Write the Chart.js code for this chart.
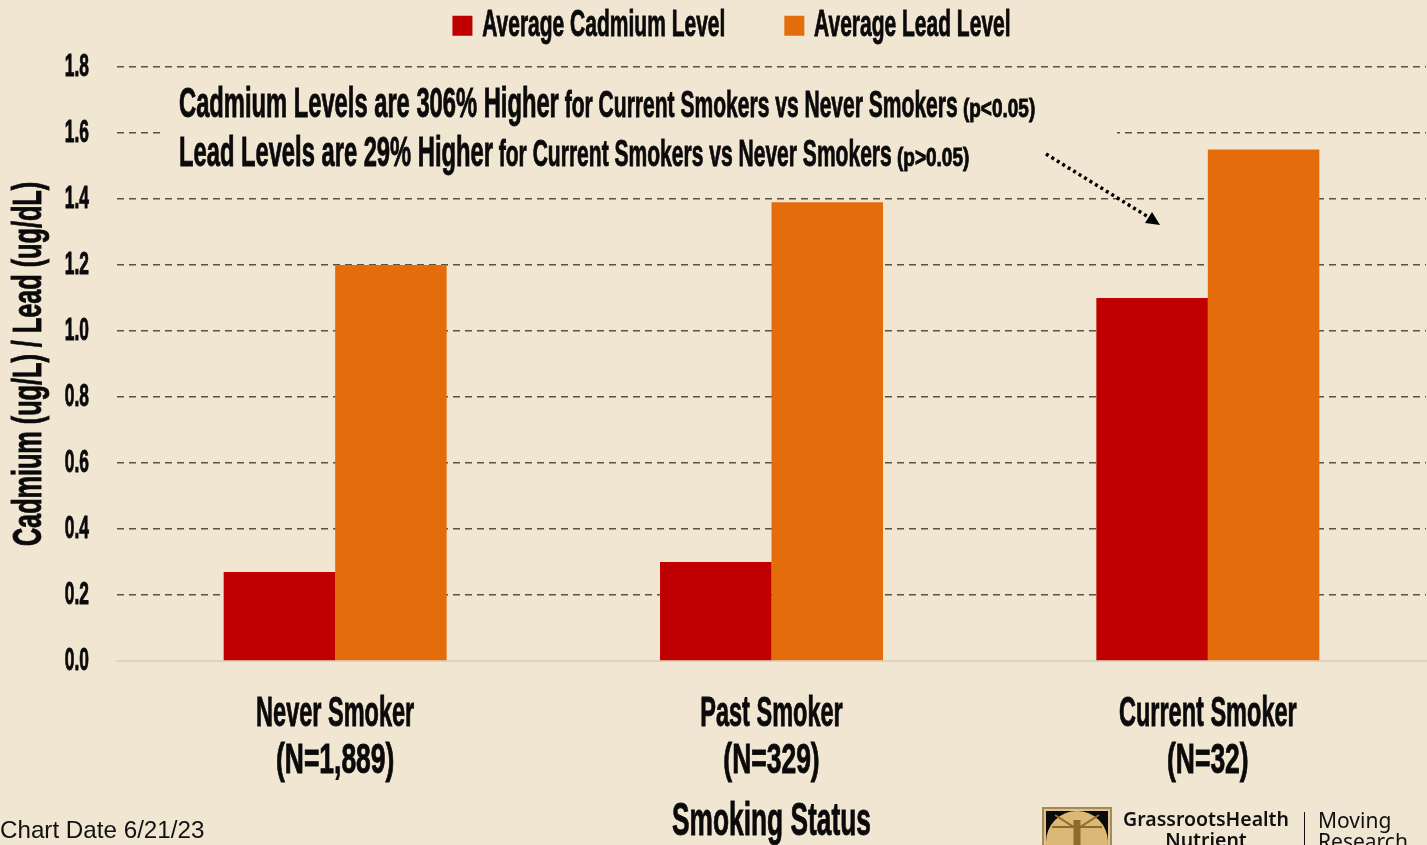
<!DOCTYPE html>
<html>
<head>
<meta charset="utf-8">
<title>Cadmium and lead by smoking status</title>
<script src="https://cdn.jsdelivr.net/npm/chart.js@4/dist/chart.umd.min.js"></script>
<style>
  html, body { margin: 0; padding: 0; background: #f1e6d2; overflow: hidden; }
  canvas { display: block; }
</style>
</head>
<body>
<canvas id="smokingChart" width="1427" height="845"></canvas>
<script>
const categories = [["Never Smoker", "(N=1,889)"], ["Past Smoker", "(N=329)"], ["Current Smoker", "(N=32)"]];
const cadmium = [0.27, 0.30, 1.10];
const lead = [1.20, 1.39, 1.55];

const CONDENSED = '"Liberation Sans", sans-serif';
const INK = "#0a0a0a";
const PAPER = "#f1e6d2";

// no condensed face is installed, so bold Liberation text gets squeezed sideways
let squeeze = 0.56;
const proto = CanvasRenderingContext2D.prototype;
const rawFill = proto.fillText;
const rawMeasure = proto.measureText;
const isCondensed = ctx => ctx.font.includes("bold") && ctx.font.includes("Liberation");
const squeezeFor = (ctx, text) => {
  if (String(text).startsWith("(N=")) return 0.63;  // sample size lines run wider
  if (ctx.font.includes("41px")) return 0.615;      // y axis title
  return squeeze;
};
proto.fillText = function (text, x, y) {
  if (!isCondensed(this)) return rawFill.call(this, text, x, y);
  this.save();
  this.translate(x, y);
  this.scale(squeezeFor(this, text), 1);
  rawFill.call(this, text, 0, 0);
  // thin outline, the reference face is heavier
  this.strokeStyle = this.fillStyle;
  this.lineWidth = 0.9;
  this.strokeText(text, 0, 0);
  this.restore();
};
proto.measureText = function (text) {
  const m = rawMeasure.call(this, text);
  return isCondensed(this) ? { width: m.width * squeezeFor(this, text) } : m;
};

// rich text lines over the plot, each run is [text, font size, squeeze]
const noteLines = [
  { y: 117, runs: [["Cadmium Levels are 306% Higher", 42, 0.565], [" for Current Smokers vs Never Smokers", 37.6, 0.56], [" (p<0.05)", 26, 0.73]] },
  { y: 166, runs: [["Lead Levels are 29% Higher", 42, 0.565], [" for Current Smokers vs Never Smokers", 37.6, 0.56], [" (p>0.05)", 26, 0.73]] }
];

const overlay = {
  id: "overlay",
  // box behind the note hides part of the 1.6 gridline
  beforeDatasetsDraw(chart) {
    const ctx = chart.ctx;
    ctx.save();
    ctx.fillStyle = PAPER;
    ctx.fillRect(162, 84, 955, 96);
    ctx.restore();
  },
  afterDraw(chart) {
    const ctx = chart.ctx;
    ctx.save();
    ctx.fillStyle = INK;
    ctx.textAlign = "left";
    ctx.textBaseline = "alphabetic";
    noteLines.forEach(line => {
      let x = 179;
      line.runs.forEach(([text, size, sq]) => {
        squeeze = sq;
        ctx.font = "bold " + size + "px " + CONDENSED;
        ctx.fillText(text, x, line.y);
        x += ctx.measureText(text).width;
      });
    });
    squeeze = 0.56;

    // dotted arrow
    ctx.strokeStyle = "#000";
    ctx.lineWidth = 3.5;
    ctx.setLineDash([3, 3.4]);
    ctx.beginPath();
    ctx.moveTo(1046, 154);
    ctx.lineTo(1150, 218);
    ctx.stroke();
    ctx.setLineDash([]);
    ctx.fillStyle = "#000";
    ctx.beginPath();
    ctx.moveTo(1160, 225);
    ctx.lineTo(1145, 223);
    ctx.lineTo(1152, 212);
    ctx.closePath();
    ctx.fill();

    // footer
    ctx.fillStyle = "#111";
    ctx.font = '24.2px "Liberation Sans", sans-serif';
    ctx.fillText("Chart Date 6/21/23", 0, 838);

    // logo, cut by the page edge like the reference
    ctx.fillStyle = "#a08a5e";
    ctx.fillRect(1042, 807, 70, 38);
    ctx.fillStyle = "#e2c48a";
    ctx.fillRect(1044, 809, 66, 36);
    ctx.fillStyle = "#0a0a0a";
    ctx.fillRect(1046, 811, 62, 34);
    ctx.fillStyle = "#dcb877";
    ctx.beginPath();
    ctx.arc(1077, 842, 31, 0, Math.PI * 2);
    ctx.fill();
    ctx.strokeStyle = "#8f6a2c";
    ctx.lineWidth = 2;
    ctx.beginPath();
    ctx.moveTo(1055, 815);
    ctx.lineTo(1077, 829);
    ctx.lineTo(1099, 815);
    ctx.moveTo(1052, 827);
    ctx.lineTo(1102, 827);
    ctx.stroke();
    ctx.lineWidth = 7;
    ctx.beginPath();
    ctx.moveTo(1077, 820);
    ctx.lineTo(1077, 845);
    ctx.stroke();

    ctx.fillStyle = "#111";
    ctx.textAlign = "center";
    ctx.font = '600 19.5px "Noto Sans", sans-serif';
    ctx.fillText("GrassrootsHealth", 1206, 826);
    ctx.fillText("Nutrient", 1206, 847);
    ctx.textAlign = "left";
    ctx.font = '21px "Noto Sans", sans-serif';
    ctx.fillText("Moving", 1318, 828);
    ctx.fillText("Research", 1318, 849);
    ctx.fillRect(1304, 812, 1, 33);
    ctx.restore();
  }
};

// legend gets a fixed band above the plot and sits right of the page centre
const placeLegend = {
  id: "placeLegend",
  beforeLayout(chart) {
    const legend = chart.legend;
    if (legend.fitPatched) return;
    const fit = legend.fit;
    legend.fit = function () {
      fit.call(this);
      this.height = 67;
    };
    legend.fitPatched = true;
  },
  afterLayout(chart) {
    const legend = chart.legend;
    legend.left += 23;
    legend.right += 23;
    legend.top = -61;
  }
};

new Chart(document.getElementById("smokingChart").getContext("2d"), {
  type: "bar",
  data: {
    labels: categories,
    datasets: [
      { label: "Average Cadmium Level", data: cadmium, backgroundColor: "#c00000" },
      { label: "Average Lead Level", data: lead, backgroundColor: "#e46c0a" }
    ]
  },
  plugins: [overlay, placeLegend],
  options: {
    responsive: false,
    animation: false,
    events: [],
    barPercentage: 1,
    categoryPercentage: 0.511,
    layout: { padding: { right: 1 } },
    plugins: {
      title: { display: false },
      tooltip: { enabled: false },
      legend: {
        position: "top",
        labels: {
          usePointStyle: true,
          pointStyle: "rect",
          boxWidth: 2,
          boxHeight: 20,
          padding: 68,
          color: INK,
          font: { family: CONDENSED, size: 37.5, weight: "bold" }
        }
      }
    },
    scales: {
      x: {
        afterFit(scale) { scale.height = 184; },
        grid: { display: false, drawTicks: false },
        border: { color: "#ddd3c3", width: 2 },
        ticks: {
          color: INK,
          padding: 29,
          maxRotation: 0,
          font: { family: CONDENSED, size: 42, weight: "bold", lineHeight: 1.14 }
        },
        title: {
          display: true,
          text: "Smoking Status",
          color: INK,
          padding: { top: 0, bottom: -5 },
          font: { family: CONDENSED, size: 47, weight: "bold" }
        }
      },
      y: {
        afterFit(scale) { scale.width = 117; },
        min: 0,
        max: 1.8,
        ticks: {
          stepSize: 0.2,
          padding: 28,
          color: INK,
          callback: v => v.toFixed(1),
          font: { family: CONDENSED, size: 31, weight: "bold" }
        },
        grid: { color: "#5c5238", lineWidth: 1.5, drawTicks: false },
        border: { display: false, dash: [7, 5] },
        title: {
          display: true,
          text: "Cadmium (ug/L) / Lead (ug/dL)",
          color: INK,
          padding: { top: 5, bottom: 0 },
          font: { family: CONDENSED, size: 41, weight: "bold" }
        }
      }
    }
  }
});
</script>
</body>
</html>
